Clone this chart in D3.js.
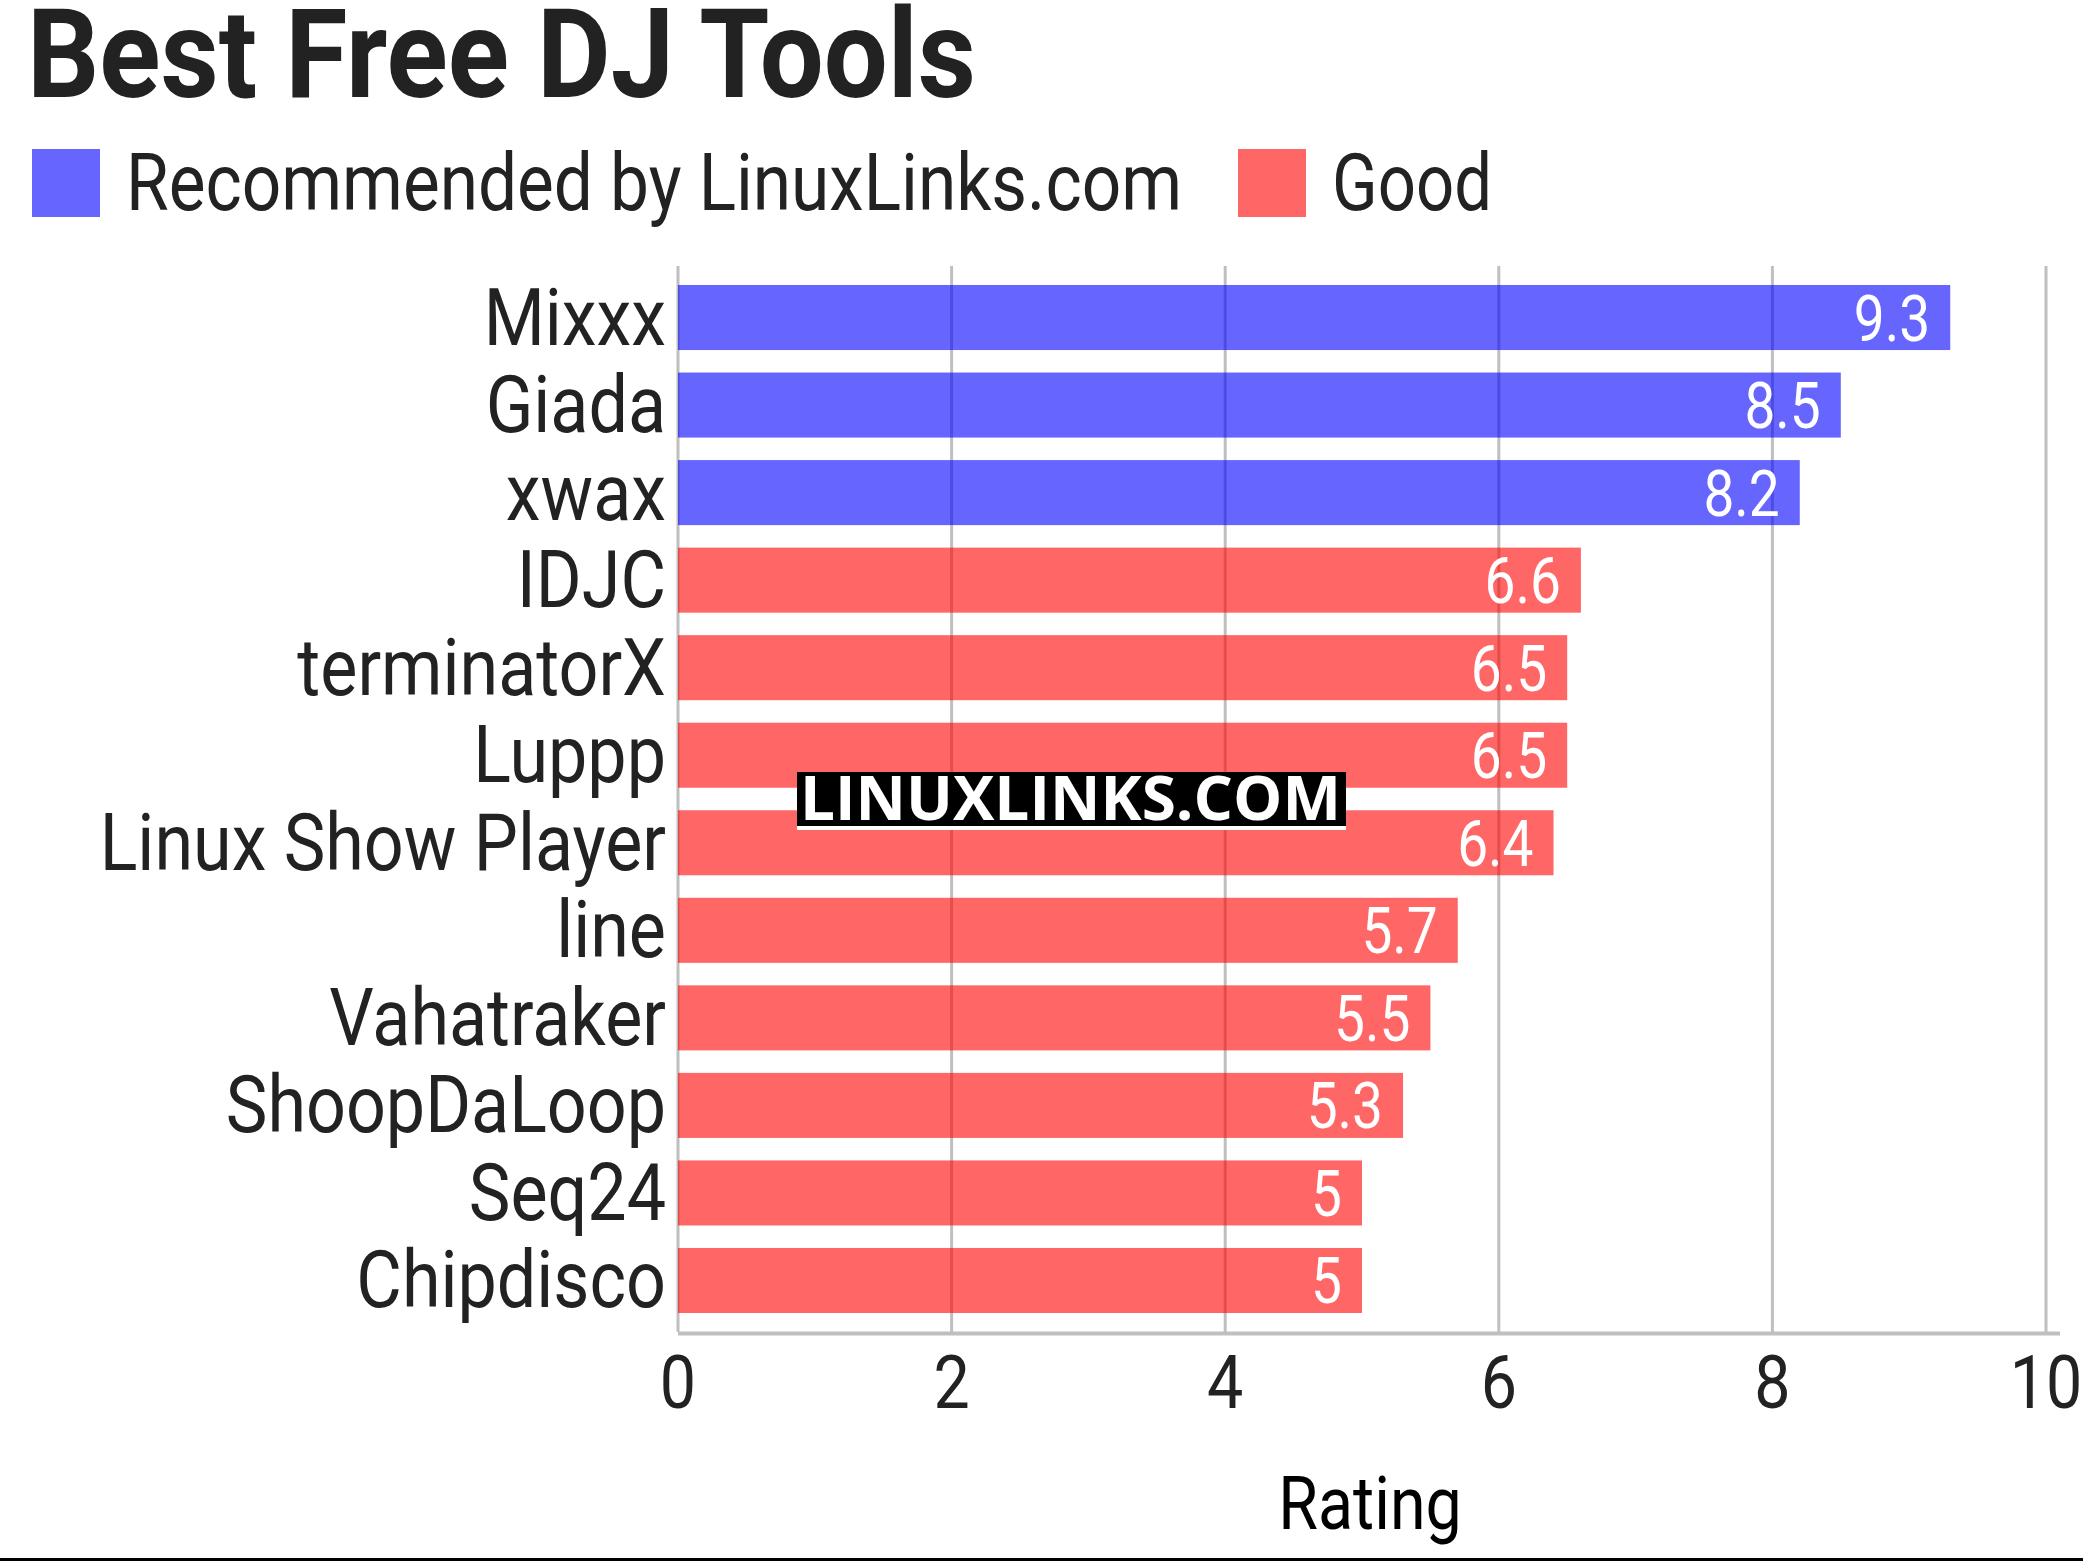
<!DOCTYPE html>
<html>
<head>
<meta charset="utf-8">
<script src="https://d3js.org/d3.v7.min.js"></script>
<style>
  body { margin: 0; background: #fff; }
  svg text { font-family: Roboto, "Noto Sans", sans-serif; }
</style>
</head>
<body>
<svg id="chart" width="2083" height="1562"></svg>
<script>
// data
var tools = ["Mixxx", "Giada", "xwax", "IDJC", "terminatorX", "Luppp", "Linux Show Player",
  "line", "Vahatraker", "ShoopDaLoop", "Seq24", "Chipdisco"];
var ratings = [9.3, 8.5, 8.2, 6.6, 6.5, 6.5, 6.4, 5.7, 5.5, 5.3, 5, 5];
var groups = ["rec", "rec", "rec", "good", "good", "good", "good", "good", "good", "good", "good", "good"];
var legendLabels = ["Recommended by LinuxLinks.com", "Good"];
var xTicks = [0, 2, 4, 6, 8, 10];

var colors = { rec: "#0000ff", good: "#ff0000" };
var textColor = "#222";
var squeeze = 0.86; // condensed look

var svg = d3.select("#chart");
var margin = { left: 678, right: 2046, top: 266, bottom: 1332 };

var x = d3.scaleLinear().domain([0, 10]).range([margin.left, margin.right]);
var y = d3.scaleBand().domain(tools).range([margin.top, margin.bottom])
  .paddingInner(0.257).paddingOuter(0.217);

function condense(sel, k) {
  sel.each(function () {
    var w = this.getComputedTextLength();
    d3.select(this).attr("textLength", w * k).attr("lengthAdjust", "spacingAndGlyphs");
  });
}

// title
svg.append("text")
  .attr("x", 27).attr("y", 97)
  .attr("font-size", 124).attr("font-weight", 700)
  .attr("fill", textColor)
  .attr("textLength", 949).attr("lengthAdjust", "spacingAndGlyphs")
  .text("Best Free DJ Tools");

// legend
var legendX = [32, 1238];
var legendTextLen = [1056, 160];
legendLabels.forEach(function (lab, i) {
  svg.append("rect")
    .attr("x", legendX[i]).attr("y", 149).attr("width", 68).attr("height", 68)
    .attr("fill", i === 0 ? colors.rec : colors.good).attr("fill-opacity", 0.6);
  svg.append("text")
    .attr("x", legendX[i] + 94).attr("y", 210)
    .attr("font-size", 79).attr("fill", textColor)
    .attr("textLength", legendTextLen[i]).attr("lengthAdjust", "spacingAndGlyphs")
    .text(lab);
});

// grid
svg.append("g").selectAll("line")
  .data(xTicks).join("line")
  .attr("x1", d => x(d)).attr("x2", d => x(d))
  .attr("y1", margin.top).attr("y2", margin.bottom)
  .attr("stroke", "#bfbfbf").attr("stroke-width", 3);

// axis line
svg.append("line")
  .attr("x1", margin.left).attr("x2", margin.right + 14)
  .attr("y1", margin.bottom + 1.5).attr("y2", margin.bottom + 1.5)
  .attr("stroke", "#bfbfbf").attr("stroke-width", 4);

// bars
svg.append("g").selectAll("rect")
  .data(tools).join("rect")
  .attr("x", x(0))
  .attr("y", d => y(d))
  .attr("width", (d, i) => x(ratings[i]) - x(0))
  .attr("height", y.bandwidth())
  .attr("fill", (d, i) => colors[groups[i]])
  .attr("fill-opacity", 0.6);

// value labels
svg.append("g").selectAll("text")
  .data(tools).join("text")
  .attr("x", (d, i) => x(ratings[i]) - 20)
  .attr("y", d => y(d) + y.bandwidth() / 2 + 23)
  .attr("text-anchor", "end")
  .attr("font-size", 64).attr("fill", "#fff")
  .text((d, i) => ratings[i])
  .call(condense, squeeze);

// category labels
svg.append("g").selectAll("text")
  .data(tools).join("text")
  .attr("x", 666)
  .attr("y", d => y(d) + y.bandwidth() / 2 + 27)
  .attr("text-anchor", "end")
  .attr("font-size", 80).attr("fill", textColor)
  .text(d => d)
  .call(condense, 0.875);

// tick labels
svg.append("g").selectAll("text")
  .data(xTicks).join("text")
  .attr("x", d => x(d))
  .attr("y", 1408)
  .attr("text-anchor", "middle")
  .attr("font-size", 75).attr("fill", textColor)
  .text(d => d)
  .call(condense, squeeze);

// axis title
svg.append("text")
  .attr("x", 1370).attr("y", 1529)
  .attr("text-anchor", "middle")
  .attr("font-size", 75).attr("fill", "#000")
  .text("Rating")
  .call(condense, squeeze);

// watermark
svg.append("rect").attr("x", 797).attr("y", 772).attr("width", 549).attr("height", 54).attr("fill", "#000");
svg.append("rect").attr("x", 797).attr("y", 826).attr("width", 549).attr("height", 4).attr("fill", "#fff");
svg.append("text")
  .attr("x", 800).attr("y", 820)
  .style("font-family", "'Open Sans', 'DejaVu Sans', sans-serif")
  .attr("font-size", 60).attr("font-weight", 700).attr("fill", "#fff")
  .attr("textLength", 541).attr("lengthAdjust", "spacingAndGlyphs")
  .text("LINUXLINKS.COM");

// bottom rule
svg.append("line")
  .attr("x1", 0).attr("x2", 2083).attr("y1", 1559.5).attr("y2", 1559.5)
  .attr("stroke", "#000").attr("stroke-width", 3);
</script>
</body>
</html>
